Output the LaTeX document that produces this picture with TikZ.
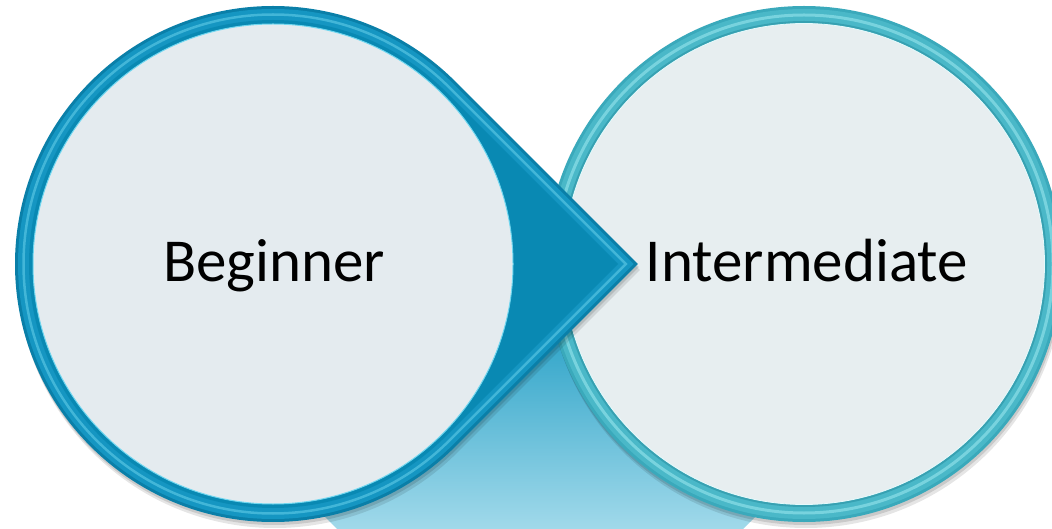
\documentclass[tikz,border=0pt]{standalone}
\usepackage{fontspec}
\setmainfont{Carlito}
\usetikzlibrary{calc}
\definecolor{lout}{HTML}{0A7FA8}
\definecolor{lband}{HTML}{1596C2}
\definecolor{lhi}{HTML}{6FD6EF}
\definecolor{ldark}{HTML}{0989B3}
\definecolor{linner}{HTML}{E4EBEF}
\definecolor{rout}{HTML}{3AA9BB}
\definecolor{rband}{HTML}{4AB8C8}
\definecolor{rhi}{HTML}{A6EEF5}
\definecolor{rinner}{HTML}{E7EEF0}
\definecolor{btop}{HTML}{2DA3C8}
\definecolor{bbot}{HTML}{A0D9EA}
% teardrop: #1 options, #2 radius, #3 x shift, #4 y shift
\newcommand{\teardrop}[4]{%
  \path[#1] ({273+#3+#2*cos(45)},{264+#4+#2*sin(45)}) -- ({273+#3+#2*1.41421},{264+#4}) -- ({273+#3+#2*cos(45)},{264+#4-#2*sin(45)}) arc[start angle=-45,end angle=-315,radius=#2] -- cycle;}
\tikzset{
  label text/.style={font=\fontsize{61}{64}\selectfont, text=black, anchor=base, inner sep=0pt},
  shadowfill/.style={fill=black, opacity=#1},
}
\begin{document}
\begin{tikzpicture}[x=1pt,y=1pt]
\useasboundingbox (0,0) rectangle (1052,528);
\begin{scope}
\clip (0,0) rectangle (1052,528);
% bottom gradient shape
\begin{scope}
\clip (90,246) -- (990,246) -- (540,-204) -- cycle;
\shade[top color=btop, bottom color=bbot] (0,0) rectangle (1052,200);
\fill[btop] (0,199.5) rectangle (1052,260);
\end{scope}
% right circle
\coordinate (rc) at (804,264);
\fill[shadowfill=.10] ($(rc)+(2,-6)$) circle[radius=258];
\fill[shadowfill=.12] ($(rc)+(1,-3)$) circle[radius=258];
\fill[rout] (rc) circle[radius=258];
\fill[rband] (rc) circle[radius=255];
\draw[rhi, line width=3, opacity=.5] (rc) circle[radius=249];
\fill[rout!95!black] (rc) circle[radius=243];
\fill[rinner] (rc) circle[radius=240.5];
\draw[white!70!rhi, line width=.8] (rc) circle[radius=240.5];
% left teardrop
\teardrop{shadowfill=.10}{258}{2}{-6}
\teardrop{shadowfill=.12}{258}{1}{-3}
\teardrop{fill=lout}{258}{0}{0}
\teardrop{fill=lband}{255}{0}{0}
\teardrop{draw=lhi, line width=2.5, opacity=.5}{249.5}{0}{0}
\teardrop{fill=ldark}{244}{0}{0}
\coordinate (lc) at (273,264);
\fill[linner] (lc) circle[radius=240];
\draw[lhi, line width=1] (lc) circle[radius=240];
\end{scope}
% labels
\node[label text] (beginner) at (274,246) {Beginner};
\node[label text] (intermediate) at (807,246) {Intermediate};
\end{tikzpicture}
\end{document}
